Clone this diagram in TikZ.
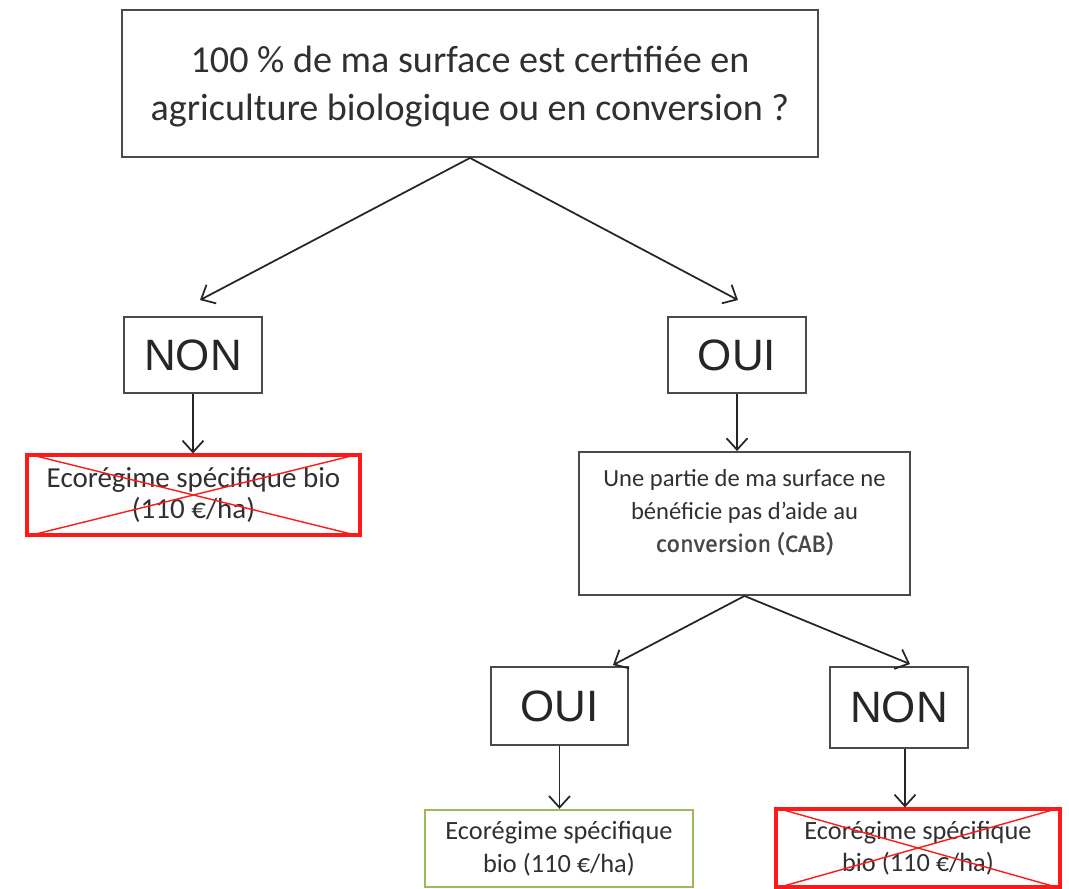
\documentclass[tikz,border=0pt]{standalone}
\usepackage{fontspec}
\setmainfont{Carlito}
\newfontfamily\arialfont{Liberation Sans}
\newfontfamily\dinfont[FakeBold=0.8]{Fira Sans}
\usetikzlibrary{calc,positioning,arrows.meta}

\definecolor{txtgray}{HTML}{303030}
\definecolor{boxgray}{HTML}{4A4A4A}
\definecolor{xred}{HTML}{FF1A1A}
\definecolor{okgreen}{HTML}{9BBB59}

\begin{document}
\begin{tikzpicture}[x=0.02cm, y=-0.02cm,
  box/.style={draw=boxgray,line width=1.1pt,inner sep=0pt,align=center,text=txtgray},
  yesno/.style={box,font=\arialfont\fontsize{25}{28}\selectfont,text=black!85,minimum width=2.76cm,minimum height=1.52cm},
  small/.style={font=\fontsize{14}{18.5}\selectfont,text=txtgray,align=center},
  redbox/.style={draw=xred,line width=1.8pt,inner sep=0pt,small},
  greenbox/.style={draw=okgreen,line width=1.4pt,inner sep=0pt,small},
  cross/.style={xred,line width=0.8pt},
  arr/.style={-{Straight Barb[length=2.3mm,width=4.2mm]},line width=1pt,black!85}]
  \useasboundingbox (0,0) rectangle (1069,889);

  \node[box,minimum width=13.92cm,minimum height=2.94cm] (q) at (470,83.5) {};
  \node[align=center,text=txtgray,inner sep=0pt,font=\fontsize{21.7}{27.5}\selectfont] (qtxt) at ($(q.center)+(0,3)$)
    {100 \% de ma surface est certifiée en\\agriculture biologique ou en conversion ?};

  \node[yesno] (non) at (193,355) {NON};
  \node[yesno] (oui) at (737,355) {OUI};

  \node[redbox,minimum width=6.66cm,minimum height=1.6cm,font=\fontsize{16.5}{17.5}\selectfont] (eco1) at (193.5,495)
    {Ecorégime spécifique bio\\(110 €/ha)};
  \draw[cross] (eco1.north west) -- (eco1.south east);
  \draw[cross] (eco1.south west) -- (eco1.north east);

  \node[box,minimum width=6.62cm,minimum height=2.86cm] (cab) at (744.5,523.5) {};
  \node[small,inner sep=0pt] (cabtxt) at ($(cab.center)+(0,-11)$)
    {Une partie de ma surface ne\\bénéficie pas d’aide au\\{\dinfont\fontsize{13.3}{18.5}\selectfont\color{black!72}conversion (CAB)}};

  \node[yesno,minimum width=2.74cm,minimum height=1.56cm] (oui2) at (559.5,706) {OUI};
  \node[yesno,minimum height=1.62cm] (non2) at (899,707.5) {NON};

  \node[greenbox,minimum width=5.36cm,minimum height=1.54cm,font=\fontsize{15}{18.5}\selectfont] (eco2) at (559,848.5)
    {Ecorégime spécifique\\bio (110 €/ha)};
  \node[redbox,minimum width=5.68cm,minimum height=1.56cm,font=\fontsize{15}{18.5}\selectfont] (eco3) at (918,848)
    {Ecorégime spécifique\\bio (110 €/ha)};
  \draw[cross] (eco3.north west) -- (eco3.south east);
  \draw[cross] (eco3.south west) -- (eco3.north east);

  % arrows
  \draw[arr] (q.south) -- ($(non.north)+(7,-16)$);
  \draw[arr] (q.south) -- ($(oui.north)+(1,-16)$);
  \draw[arr] (non.south) -- (eco1.north -| non.south);
  \draw[arr] (oui.south) -- (cab.north -| oui.south);
  \draw[arr] (cab.south) -- ($(oui2.north east)+(-16,-1)$);
  \draw[arr] (cab.south) -- ($(non2.north)+(11,-2)$);
  \draw[arr] (oui2.south) -- (eco2.north -| oui2.south);
  \draw[arr] ($(non2.south)+(6,0)$) -- ($(eco3.north -| non2.south)+(6,0)$);
\end{tikzpicture}
\end{document}
